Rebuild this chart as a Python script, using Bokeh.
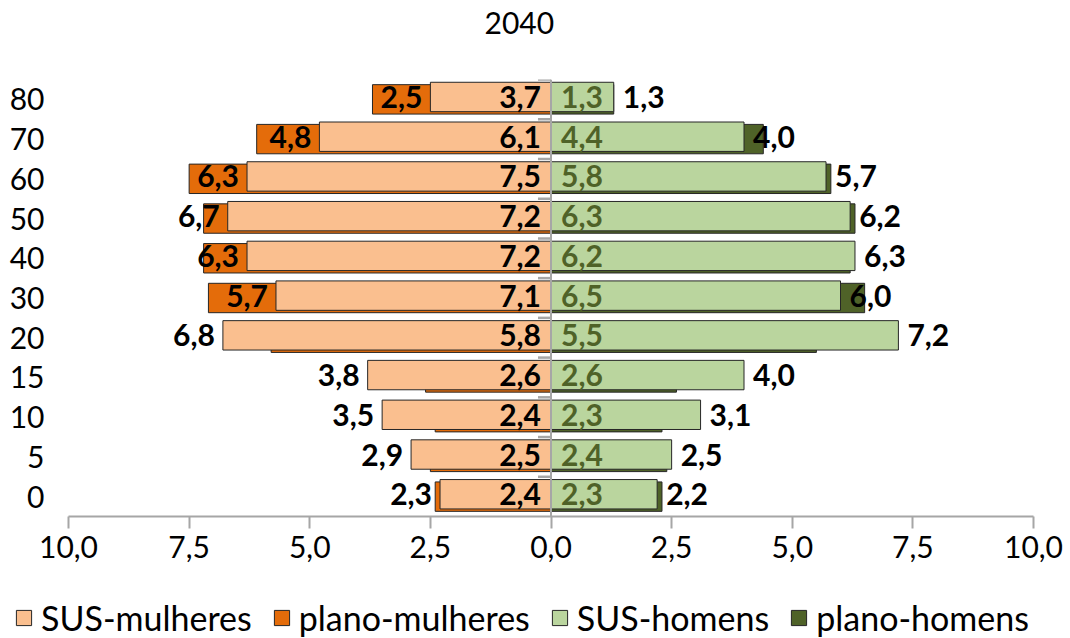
from bokeh.plotting import figure
from bokeh.layouts import column
from bokeh.models import (ColumnDataSource, Range1d, FixedTicker, Legend, LegendItem,
                          Title, Span)
from bokeh.core.properties import value
from bokeh.transform import dodge
from bokeh.embed import file_html
from bokeh.resources import INLINE

# ---- data ----
ages = ["0", "5", "10", "15", "20", "30", "40", "50", "60", "70", "80"]
sus_mulheres = [2.3, 2.9, 3.5, 3.8, 6.8, 5.7, 6.3, 6.7, 6.3, 4.8, 2.5]
plano_mulheres = [2.4, 2.5, 2.4, 2.6, 5.8, 7.1, 7.2, 7.2, 7.5, 6.1, 3.7]
sus_homens = [2.2, 2.5, 3.1, 4.0, 7.2, 6.0, 6.3, 6.2, 5.7, 4.0, 1.3]
plano_homens = [2.3, 2.4, 2.3, 2.6, 5.5, 6.5, 6.2, 6.3, 5.8, 4.4, 1.3]
series_names = ["SUS-mulheres", "plano-mulheres", "SUS-homens", "plano-homens"]
x_ticks = [-10.0, -7.5, -5.0, -2.5, 0.0, 2.5, 5.0, 7.5, 10.0]
title_text = "2040"

FONT = "Lato"
C_SUS_M = "#FABF8F"
C_PLANO_M = "#E46C0A"
C_SUS_H = "#BAD59E"
C_PLANO_H = "#4F6228"
OUTLINE = "#262626"
AXIS_GRAY = "#A6A6A6"
W = 1070


def fmt(v):
    return f"{abs(v):.1f}".replace(".", ",")


idx = list(range(len(ages)))
src = ColumnDataSource(dict(
    y=idx,
    sus_m_neg=[-v for v in sus_mulheres],
    plano_m_neg=[-v for v in plano_mulheres],
    sus_h=sus_homens,
    plano_h=plano_homens,
    zero=[0] * len(ages),
    lab_sus_m=[fmt(v) for v in sus_mulheres],
    lab_plano_m=[fmt(v) for v in plano_mulheres],
    lab_sus_h=[fmt(v) for v in sus_homens],
    lab_plano_h=[fmt(v) for v in plano_homens],
))

p = figure(width=W, height=598, output_backend="svg", toolbar_location=None,
           x_range=Range1d(x_ticks[0], x_ticks[-1]),
           y_range=Range1d(-0.5, len(ages) - 0.5),
           min_border_left=68, min_border_right=37, min_border_top=79,
           min_border_bottom=82)
p.frame_align = False
p.outline_line_color = None
p.xgrid.visible = False
p.ygrid.visible = False
p.background_fill_color = "white"
p.border_fill_color = "white"

# spacer (nearest the frame) then the real title above it
p.add_layout(Title(text=" ", text_font=FONT, text_font_size="24px"), "above")
p.add_layout(Title(text=title_text, align="left", text_font=FONT, text_font_size="30px",
                   text_font_style="normal", text_color="#000000", offset=416), "above")

BAR_H = 0.74
LIGHT_Y = dodge("y", 0.06)
DARK_Y = dodge("y", 0.0)

# dark (plano) bars behind
r_pm = p.hbar(y=DARK_Y, left="plano_m_neg", right="zero", height=BAR_H, source=src,
              fill_color=C_PLANO_M, line_color=OUTLINE, line_width=1)
r_ph = p.hbar(y=DARK_Y, left="zero", right="plano_h", height=BAR_H, source=src,
              fill_color=C_PLANO_H, line_color=OUTLINE, line_width=1)
# light (SUS) bars on top
r_sm = p.hbar(y=LIGHT_Y, left="sus_m_neg", right="zero", height=BAR_H, source=src,
              fill_color=C_SUS_M, line_color=OUTLINE, line_width=1)
r_sh = p.hbar(y=LIGHT_Y, left="zero", right="sus_h", height=BAR_H, source=src,
              fill_color=C_SUS_H, line_color=OUTLINE, line_width=1)

# zero (category) axis line and its tick stubs at category boundaries
p.add_layout(Span(location=0, dimension="height", line_color=AXIS_GRAY, line_width=2))
p.segment(x0="zero", x1=-0.27, y0=dodge("y", 0.5), y1=dodge("y", 0.5), source=src,
          line_color=AXIS_GRAY, line_width=2.5)

# data labels
common = dict(text_font=value(FONT), text_font_size="30px", text_font_style="bold",
              text_baseline="middle", source=src)
p.text(x="sus_m_neg", y=LIGHT_Y, text="lab_sus_m", text_align="right", x_offset=-8,
       text_color="#000000", **common)
p.text(x="zero", y=LIGHT_Y, text="lab_plano_m", text_align="right", x_offset=-10,
       text_color="#000000", **common)
p.text(x="zero", y=LIGHT_Y, text="lab_plano_h", text_align="left", x_offset=10,
       text_color=C_PLANO_H, **common)
p.text(x="sus_h", y=LIGHT_Y, text="lab_sus_h", text_align="left", x_offset=9,
       text_color="#000000", **common)

# x axis
p.xaxis.ticker = FixedTicker(ticks=x_ticks)
p.xaxis.major_label_overrides = {t: fmt(t) for t in x_ticks}
p.xaxis.axis_line_color = AXIS_GRAY
p.xaxis.axis_line_width = 2
p.xaxis.major_tick_line_color = AXIS_GRAY
p.xaxis.major_tick_line_width = 2
p.xaxis.major_tick_out = 12
p.xaxis.major_tick_in = 0
p.xaxis.minor_tick_line_color = None
p.xaxis.major_label_text_font = FONT
p.xaxis.major_label_text_font_size = "30px"
p.xaxis.major_label_text_color = "#000000"
p.xaxis.major_label_standoff = 7

# y axis (category labels)
p.yaxis.ticker = FixedTicker(ticks=idx)
p.yaxis.major_label_overrides = {i: a for i, a in zip(idx, ages)}
p.yaxis.axis_line_color = None
p.yaxis.major_tick_line_color = None
p.yaxis.minor_tick_line_color = None
p.yaxis.major_label_text_font = FONT
p.yaxis.major_label_text_font_size = "30px"
p.yaxis.major_label_text_color = "#000000"
p.yaxis.major_label_standoff = 18

# legend strip below the chart
lg = figure(width=W, height=40, output_backend="svg", toolbar_location=None,
            x_range=Range1d(0, 1), y_range=Range1d(0, 1),
            x_axis_location=None, y_axis_location=None,
            min_border_left=0, min_border_right=0, min_border_top=0, min_border_bottom=0)
lg.frame_align = False
lg.outline_line_color = None
lg.xgrid.visible = False
lg.ygrid.visible = False
key_src = ColumnDataSource(dict(y=[0], left=[0], right=[1]))
colors = [C_SUS_M, C_PLANO_M, C_SUS_H, C_PLANO_H]
items = []
for name, col in zip(series_names, colors):
    r = lg.hbar(y="y", left="left", right="right", height=1, source=key_src,
                fill_color=col, line_color=OUTLINE, line_width=1, visible=False)
    items.append(LegendItem(label=name, renderers=[r]))
legend = Legend(items=items, orientation="horizontal", location=(14, 0),
                label_text_font=FONT, label_text_font_size="34px", label_text_color="#000000",
                glyph_width=19, glyph_height=19, label_standoff=8, spacing=20,
                padding=0, margin=0, border_line_color=None, background_fill_alpha=0,
                inactive_fill_alpha=0)
lg.add_layout(legend, "center")

layout = column(p, lg, spacing=0)
open("out.html", "w").write(file_html(layout, INLINE))
